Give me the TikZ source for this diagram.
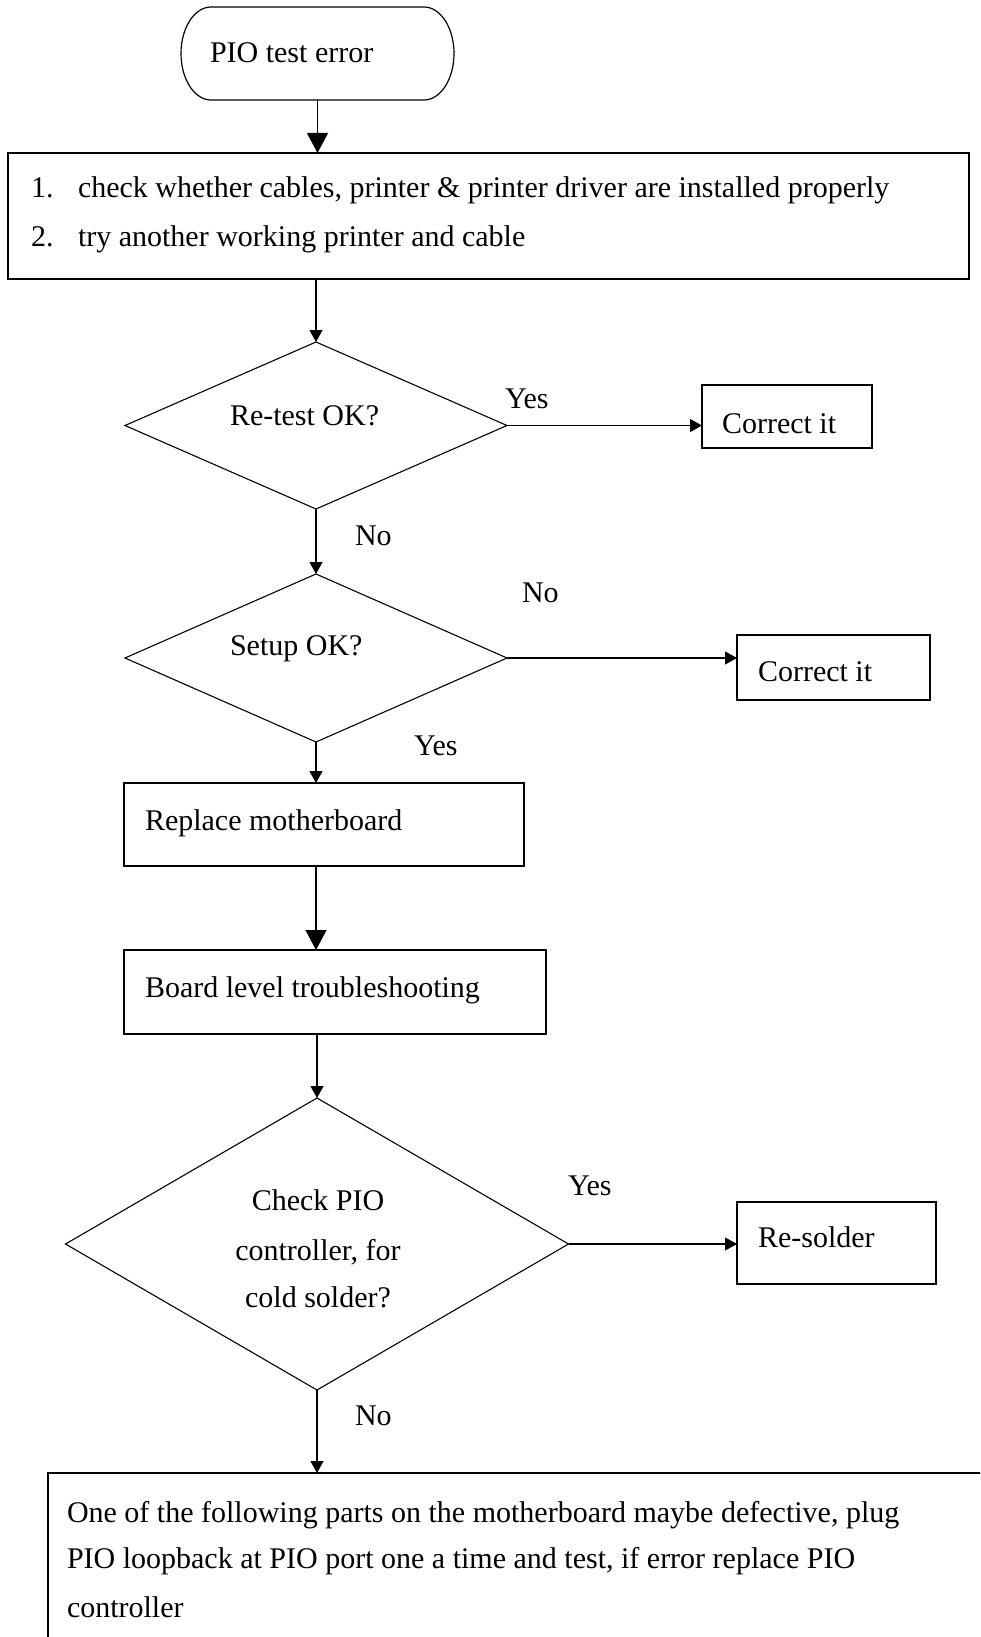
\documentclass[tikz,border=0pt]{standalone}
\usepackage{fontspec}
\setmainfont{Liberation Serif}
\usetikzlibrary{shapes.geometric,arrows.meta}
\begin{document}
\begin{tikzpicture}[x=1pt,y=-1pt,
  every node/.style={outer sep=0pt},
  box/.style={draw,line width=1.5pt,rectangle,inner sep=0pt},
  dia/.style={draw,line width=1.1pt,diamond,inner sep=0pt,aspect=1},
  txt/.style={inner sep=0pt,font=\fontsize{30}{49}\selectfont},
  conn/.style={line width=1.1pt},
  bigarr/.style={conn,-{Triangle[width=21pt,length=20pt]}},
  smallarr/.style={conn,-{Triangle[width=13pt,length=12pt]}}]
\useasboundingbox (0,0) rectangle (980,1637);
\clip (0,0) rectangle (980,1637);
% shapes
\node[minimum width=273pt,minimum height=93pt] (term) at (317.5,53.5) {};
\draw[line width=1.2pt] ([xshift=30pt]term.north west) -- ([xshift=-30pt]term.north east)
  arc[start angle=90,end angle=-90,x radius=30pt,y radius=46.5pt]
  -- ([xshift=30pt]term.south west)
  arc[start angle=270,end angle=90,x radius=30pt,y radius=46.5pt] -- cycle;
\node[box,minimum width=961pt,minimum height=126pt] (b1) at (488.5,216) {};
\node[dia,minimum width=382pt,minimum height=167pt] (d1) at (316,425.5) {};
\node[box,minimum width=170pt,minimum height=63pt] (c1) at (787,416.5) {};
\node[dia,minimum width=382pt,minimum height=168pt] (d2) at (316,658) {};
\node[box,minimum width=193pt,minimum height=65pt] (c2) at (833.5,667.5) {};
\node[box,minimum width=400pt,minimum height=83pt] (rep) at (324,824.5) {};
\node[box,minimum width=422pt,minimum height=84pt] (brd) at (335,992) {};
\node[dia,minimum width=503pt,minimum height=292pt] (d3) at (317,1244) {};
\node[box,minimum width=199pt,minimum height=82pt] (rs) at (836.5,1243) {};
\node[box,minimum width=960pt,minimum height=240pt] (fin) at (528,1593) {};
% texts
\node[txt,anchor=base west] (t0) at (210,63) {PIO test error};
\node[txt,anchor=base west] (n1) at (31,198) {1.};
\node[txt,anchor=base west] (l1) at (78,198) {check whether cables, printer \& printer driver are installed properly};
\node[txt,anchor=base west] (n2) at (31,247) {2.};
\node[txt,anchor=base west] (l2) at (78,247) {try another working printer and cable};
\node[txt,anchor=base west] (td1) at (230,425) {Re-test OK?};
\node[txt,anchor=base west] (y1) at (505,408) {Yes};
\node[txt,anchor=base west] (tc1) at (722,433) {Correct it};
\node[txt,anchor=base west] (no1) at (355,545) {No};
\node[txt,anchor=base west] (no2) at (522,602) {No};
\node[txt,anchor=base west] (td2) at (230,655) {Setup OK?};
\node[txt,anchor=base west] (tc2) at (758,681) {Correct it};
\node[txt,anchor=base west] (y2) at (414,755) {Yes};
\node[txt,anchor=base west] (trep) at (145,830) {Replace motherboard};
\node[txt,anchor=base west] (tbrd) at (145,997) {Board level troubleshooting};
\node[txt,anchor=base] (td3a) at (318,1210) {Check PIO};
\node[txt,anchor=base] (td3b) at (318,1260) {controller, for};
\node[txt,anchor=base] (td3c) at (318,1307) {cold solder?};
\node[txt,anchor=base west] (y3) at (568,1195) {Yes};
\node[txt,anchor=base west] (trs) at (758,1247) {Re-solder};
\node[txt,anchor=base west] (no3) at (355,1425) {No};
\node[txt,anchor=base west] (tf1) at (67,1522) {One of the following parts on the motherboard maybe defective, plug};
\node[txt,anchor=base west] (tf2) at (67,1568) {PIO loopback at PIO port one a time and test, if error replace PIO};
\node[txt,anchor=base west] (tf3) at (67,1617) {controller};
% connectors
\draw[bigarr] (term.south) -- (term.south |- b1.north);
\draw[smallarr] (d1.north |- b1.south) -- (d1.north);
\draw[smallarr] (d1.east) -- (c1.west |- d1.east);
\draw[smallarr] (d1.south) -- (d2.north);
\draw[smallarr] (d2.east) -- (c2.west |- d2.east);
\draw[smallarr] (d2.south) -- (d2.south |- rep.north);
\draw[bigarr] (d2.south |- rep.south) -- (d2.south |- brd.north);
\draw[smallarr] (d3.north |- brd.south) -- (d3.north);
\draw[smallarr] (d3.east) -- (rs.west |- d3.east);
\draw[smallarr] (d3.south) -- (d3.south |- fin.north);
\end{tikzpicture}
\end{document}
